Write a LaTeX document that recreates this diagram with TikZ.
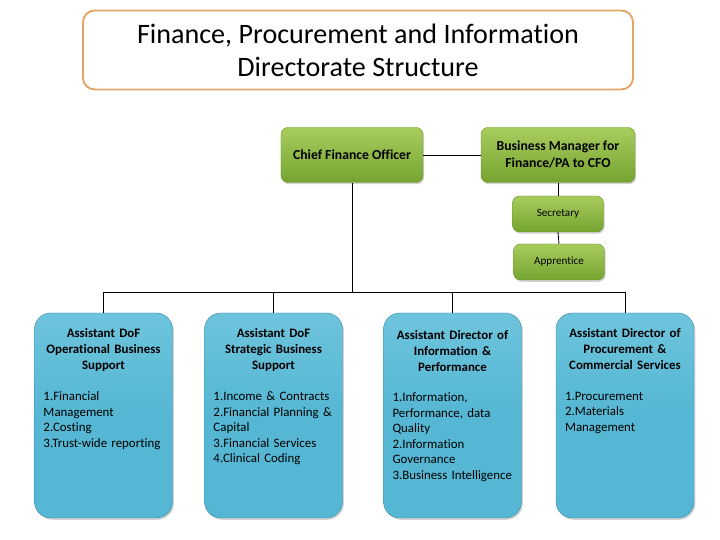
\documentclass[tikz,border=0pt]{standalone}
\usepackage{fontspec}
\setmainfont{Carlito}[Ligatures=NoCommon]
\usetikzlibrary{positioning}
\usetikzlibrary{shadows}
\definecolor{fpborder}{HTML}{E3A565}
\definecolor{fpgreentop}{HTML}{A8CC5E}
\definecolor{fpgreenbot}{HTML}{76A430}
\definecolor{fpgreenline}{HTML}{6E9A2C}
\definecolor{fpbluetop}{HTML}{6EC4DC}
\definecolor{fpblue}{HTML}{55B7D3}
\definecolor{fpblueline}{HTML}{3E90AC}
\tikzset{
  fptitle/.style={
    draw=fpborder, line width=1.6pt, fill=white, rounded corners=10pt,
    minimum width=16.5cm, minimum height=2.37cm, align=center,
    font=\fontsize{24}{28}\selectfont},
  fpgreen/.style={
    draw=fpgreenline, line width=0.4pt, rounded corners=6pt,
    top color=fpgreentop, bottom color=fpgreenbot, align=center,
    font=\bfseries\fontsize{11.7}{14.5}\selectfont,
    drop shadow={opacity=0.35, shadow xshift=1pt, shadow yshift=-1.5pt}},
  fpsmall/.style={
    fpgreen, font=\fontsize{9.5}{11}\selectfont,
    minimum width=2.73cm, minimum height=1.08cm},
  fpbluebox/.style={
    draw=fpblueline, line width=0.4pt, rounded corners=14pt,
    top color=fpbluetop, bottom color=fpblue, middle color=fpblue,
    minimum width=4.14cm, minimum height=6.15cm,
    drop shadow={opacity=0.35, shadow xshift=1.2pt, shadow yshift=-1.5pt}},
  fphead/.style={
    anchor=north, align=center, text width=3.9cm, inner sep=0pt,
    font=\bfseries\fontsize{11}{13.6}\selectfont},
  fplist/.style={
    anchor=north west, align=left, text width=3.9cm, inner sep=0pt,
    font=\fontsize{11}{13.2}\selectfont},
  fpline/.style={draw=black, line width=0.7pt},
}

\begin{document}
\begin{tikzpicture}[x=0.03cm, y=0.03cm]
\useasboundingbox (0,0) rectangle (720,540);

% Title.
\node[fptitle] (title) at (358, 490)
  {Finance, Procurement and Information\\Directorate Structure};

% Top of the tree.
\node[fpgreen, minimum width=4.26cm, minimum height=1.65cm]
  (cfo) at (352, 385) {Chief Finance Officer};
\node[fpgreen, minimum width=4.62cm, minimum height=1.65cm]
  (bizman) at (558, 385) {Business Manager for\\Finance/PA to CFO};
\node[fpsmall] (secretary) at (558, 326) {Secretary};
\node[fpsmall] (apprentice) at (559, 278) {Apprentice};

% The four assistant directors.
\node[fpbluebox] (ops) at (103.5, 124.5) {};
\node[fpbluebox] (strat) at (273.5, 124.5) {};
\node[fpbluebox] (info) at (452.5, 124.5) {};
\node[fpbluebox] (proc) at (625, 124.5) {};

\node[fphead] (opshead) at ([yshift=-0.47cm]ops.north)
  {Assistant DoF\\Operational Business\\Support};
\node[fplist] (opslist) at ([xshift=0.27cm, yshift=-2.37cm]ops.north west)
  {1.Financial\\Management\\2.Costing\\3.Trust-wide reporting};

\node[fphead] (strathead) at ([yshift=-0.47cm]strat.north)
  {Assistant DoF\\Strategic Business\\Support};
\node[fplist] (stratlist) at ([xshift=0.27cm, yshift=-2.37cm]strat.north west)
  {1.Income \& Contracts\\2.Financial Planning \&\\Capital\\
   3.Financial Services\\4.Clinical Coding};

\node[fphead] (infohead) at ([yshift=-0.53cm]info.north)
  {Assistant Director of\\Information \&\\Performance};
\node[fplist] (infolist) at ([xshift=0.27cm, yshift=-2.4cm]info.north west)
  {1.Information,\\Performance, data\\Quality\\2.Information\\
   Governance\\3.Business Intelligence};

\node[fphead] (prochead) at ([yshift=-0.47cm]proc.north)
  {Assistant Director of\\Procurement \&\\Commercial Services};
\node[fplist] (proclist) at ([xshift=0.27cm, yshift=-2.37cm]proc.north west)
  {1.Procurement\\2.Materials\\Management};

% Connectors.
\coordinate (busbar) at (352, 248);
\draw[fpline] (cfo.east) -- (bizman.west);
\draw[fpline] (bizman.south) -- (secretary.north);
\draw[fpline] (secretary.south) -- (apprentice.north);
\draw[fpline] (cfo.south) -- (busbar);
\foreach \dir in {ops, strat, info, proc} {
  \draw[fpline] (busbar) -| (\dir.north);
}

\end{tikzpicture}
\end{document}
